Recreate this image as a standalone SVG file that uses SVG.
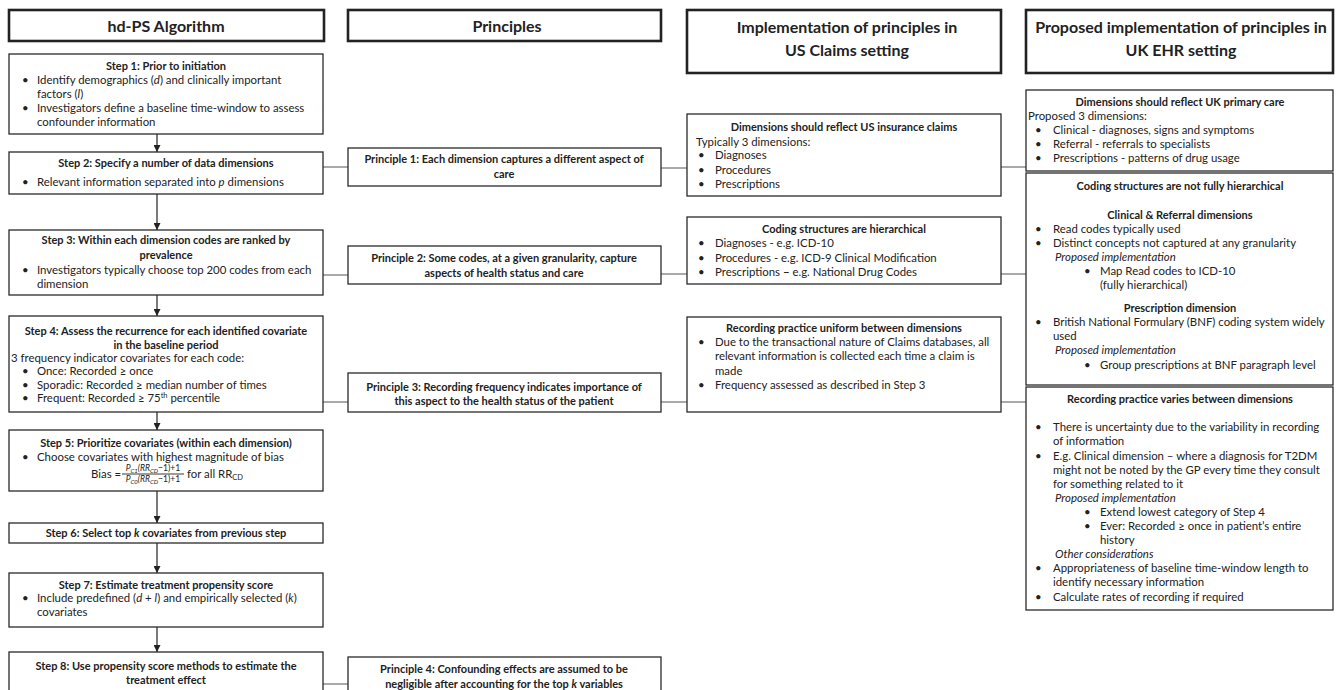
<svg xmlns="http://www.w3.org/2000/svg" width="1341" height="690" viewBox="0 0 1341 690">
<defs>
<style>
.box{fill:#fff;stroke:#2a2a2a;stroke-width:1.3}
.hdr{fill:#fff;stroke:#222;stroke-width:2.6}
text{font-family:Lato,"Open Sans",sans-serif;font-size:11.4px;fill:#222}
.b{font-weight:bold;font-size:11px}
.c{text-anchor:middle}
.i{font-style:italic}
.h{font-size:16px;font-weight:bold}
.conn{stroke:#555;stroke-width:1;fill:none}
.arr{stroke:#222;stroke-width:1.2;fill:none}
.f{font-size:8.6px;font-style:italic}
</style>
<marker id="ah" viewBox="0 0 10 10" refX="10" refY="5" markerWidth="7" markerHeight="7" markerUnits="userSpaceOnUse" orient="auto">
<path d="M0,0 L10,5 L0,10 z" fill="#222"/>
</marker>
</defs>
<rect width="1341" height="690" fill="#fff"/>

<g id="connectors">
<line class="arr" x1="157" y1="134" x2="157" y2="152" marker-end="url(#ah)"/>
<line class="arr" x1="157" y1="194" x2="157" y2="230" marker-end="url(#ah)"/>
<line class="arr" x1="157" y1="295" x2="157" y2="316" marker-end="url(#ah)"/>
<line class="arr" x1="157" y1="412" x2="157" y2="430" marker-end="url(#ah)"/>
<line class="arr" x1="157" y1="491" x2="157" y2="523" marker-end="url(#ah)"/>
<line class="arr" x1="157" y1="543" x2="157" y2="573" marker-end="url(#ah)"/>
<line class="arr" x1="157" y1="627" x2="157" y2="652" marker-end="url(#ah)"/>
<line class="conn" x1="323" y1="167" x2="348" y2="167"/>
<line class="conn" x1="323" y1="275" x2="348" y2="275"/>
<line class="conn" x1="323" y1="402" x2="348" y2="402"/>
<line class="conn" x1="323" y1="684" x2="348" y2="684"/>
<line class="conn" x1="661" y1="168" x2="687" y2="168"/>
<line class="conn" x1="661" y1="274" x2="687" y2="274"/>
<line class="conn" x1="661" y1="402" x2="687" y2="402"/>
<line class="conn" x1="1001" y1="167" x2="1026" y2="167"/>
<line class="conn" x1="1001" y1="274" x2="1026" y2="274"/>
<line class="conn" x1="1001" y1="402" x2="1026" y2="402"/>
</g>

<g id="hdr-hdps">
<rect class="hdr" x="9" y="10" width="315" height="31"/>
<text class="h c" x="166" y="32">hd-PS Algorithm</text>
</g>
<g id="hdr-principles">
<rect class="hdr" x="348" y="10" width="313" height="31"/>
<text class="h c" x="507" y="32">Principles</text>
</g>
<g id="hdr-us">
<rect class="hdr" x="687" y="10" width="314" height="63"/>
<text class="h c" x="847" y="33">Implementation of principles in</text>
<text class="h c" x="847" y="56">US Claims setting</text>
</g>
<g id="hdr-uk">
<rect class="hdr" x="1026" y="10" width="307" height="63"/>
<text class="h c" x="1181" y="33">Proposed implementation of principles in</text>
<text class="h c" x="1181" y="56">UK EHR setting</text>
</g>

<g id="step1">
<rect class="box" x="9" y="54" width="314" height="80"/>
<text class="b c" x="166" y="70">Step 1: Prior to initiation</text>
<text x="22" y="84">•</text><text x="37" y="84">Identify demographics (<tspan class="i">d</tspan>) and clinically important</text>
<text x="37" y="98">factors (<tspan class="i">l</tspan>)</text>
<text x="22" y="112">•</text><text x="37" y="112">Investigators define a baseline time-window to assess</text>
<text x="37" y="126">confounder information</text>
</g>
<g id="step2">
<rect class="box" x="9" y="152" width="314" height="42"/>
<text class="b c" x="166" y="167">Step 2: Specify a number of data dimensions</text>
<text x="22" y="186">•</text><text x="37" y="186">Relevant information separated into <tspan class="i">p</tspan> dimensions</text>
</g>
<g id="step3">
<rect class="box" x="9" y="230" width="314" height="65"/>
<text class="b c" x="166" y="244">Step 3: Within each dimension codes are ranked by</text>
<text class="b c" x="166" y="259">prevalence</text>
<text x="22" y="274">•</text><text x="37" y="274">Investigators typically choose top 200 codes from each</text>
<text x="37" y="288">dimension</text>
</g>
<g id="step4">
<rect class="box" x="9" y="316" width="314" height="96"/>
<text class="b c" x="166" y="335">Step 4: Assess the recurrence for each identified covariate</text>
<text class="b c" x="166" y="349">in the baseline period</text>
<text x="11" y="362">3 frequency indicator covariates for each code:</text>
<text x="22" y="375">•</text><text x="37" y="375">Once: Recorded  ≥ once</text>
<text x="22" y="389">•</text><text x="37" y="389">Sporadic: Recorded ≥ median number of times</text>
<text x="22" y="402">•</text><text x="37" y="402">Frequent: Recorded ≥ 75<tspan dy="-4" font-size="7.5">th</tspan><tspan dy="4"> percentile</tspan></text>
</g>
<g id="step5">
<rect class="box" x="9" y="430" width="314" height="61"/>
<text class="b c" x="166" y="447">Step 5: Prioritize covariates (within each dimension)</text>
<text x="22" y="461">•</text><text x="37" y="461">Choose covariates with highest magnitude of bias</text>
<text x="91" y="478">Bias =</text>
<text class="f c" x="153" y="471">P<tspan font-size="6" dy="1.5">C1</tspan><tspan dy="-1.5">(RR</tspan><tspan font-size="6" dy="1.5">CD</tspan><tspan dy="-1.5" font-style="normal">−1)+1</tspan></text>
<line x1="122" y1="474" x2="184" y2="474" stroke="#222" stroke-width="0.9"/>
<text class="f c" x="153" y="482">P<tspan font-size="6" dy="1.5">C0</tspan><tspan dy="-1.5">(RR</tspan><tspan font-size="6" dy="1.5">CD</tspan><tspan dy="-1.5" font-style="normal">−1)+1</tspan></text>
<text x="187" y="478">for all RR<tspan font-size="7.5" dy="2">CD</tspan></text>
</g>
<g id="step6">
<rect class="box" x="9" y="523" width="314" height="20"/>
<text class="b c" x="166" y="537">Step 6: Select top <tspan class="i">k</tspan> covariates from previous step</text>
</g>
<g id="step7">
<rect class="box" x="9" y="573" width="314" height="54"/>
<text class="b c" x="166" y="589">Step 7: Estimate treatment propensity score</text>
<text x="22" y="602">•</text><text x="37" y="602">Include predefined (<tspan class="i">d</tspan> + <tspan class="i">l</tspan>) and empirically selected (<tspan class="i">k</tspan>)</text>
<text x="37" y="616">covariates</text>
</g>
<g id="step8">
<rect class="box" x="9" y="652" width="314" height="50"/>
<text class="b c" x="166" y="670">Step 8: Use propensity score methods to estimate the</text>
<text class="b c" x="166" y="684">treatment effect</text>
</g>

<g id="principle1">
<rect class="box" x="348" y="148" width="313" height="38"/>
<text class="b c" x="504" y="163">Principle 1: Each dimension captures a different  aspect of</text>
<text class="b c" x="504" y="178">care</text>
</g>
<g id="principle2">
<rect class="box" x="348" y="246" width="313" height="38"/>
<text class="b c" x="504" y="262">Principle 2: Some codes, at a given granularity, capture</text>
<text class="b c" x="504" y="277">aspects of health status and care</text>
</g>
<g id="principle3">
<rect class="box" x="348" y="373" width="313" height="39"/>
<text class="b c" x="504" y="391">Principle 3: Recording frequency indicates importance of</text>
<text class="b c" x="504" y="405">this aspect to the health status of the patient</text>
</g>
<g id="principle4">
<rect class="box" x="348" y="657" width="313" height="50"/>
<text class="b c" x="504" y="673">Principle 4: Confounding effects are assumed to be</text>
<text class="b c" x="504" y="688">negligible after accounting for the top <tspan class="i">k</tspan> variables</text>
</g>

<g id="us1">
<rect class="box" x="687" y="114" width="314" height="82"/>
<text class="b c" x="844" y="131">Dimensions should reflect US insurance claims</text>
<text x="696" y="146">Typically 3 dimensions:</text>
<text x="698" y="159">•</text><text x="715" y="159">Diagnoses</text>
<text x="698" y="174">•</text><text x="715" y="174">Procedures</text>
<text x="698" y="188">•</text><text x="715" y="188">Prescriptions</text>
</g>
<g id="us2">
<rect class="box" x="687" y="217" width="314" height="67"/>
<text class="b c" x="844" y="233">Coding structures are hierarchical</text>
<text x="698" y="247">•</text><text x="715" y="247">Diagnoses - e.g. ICD-10</text>
<text x="698" y="262">•</text><text x="715" y="262">Procedures - e.g. ICD-9 Clinical Modification</text>
<text x="698" y="276">•</text><text x="715" y="276">Prescriptions <tspan font-weight="bold">–</tspan> e.g. National Drug Codes</text>
</g>
<g id="us3">
<rect class="box" x="687" y="317" width="314" height="95"/>
<text class="b c" x="844" y="332">Recording practice uniform between dimensions</text>
<text x="698" y="346">•</text><text x="715" y="346">Due to the transactional nature of Claims databases, all</text>
<text x="715" y="360">relevant information is collected each time a claim is</text>
<text x="715" y="375">made</text>
<text x="698" y="389">•</text><text x="715" y="389">Frequency assessed as described in Step 3</text>
</g>

<g id="uk1">
<rect class="box" x="1026" y="90" width="307" height="81"/>
<text class="b c" x="1180" y="106">Dimensions should reflect UK primary care</text>
<text x="1028" y="120">Proposed 3 dimensions:</text>
<text x="1035" y="134">•</text><text x="1053" y="134">Clinical - diagnoses, signs and symptoms</text>
<text x="1035" y="148">•</text><text x="1053" y="148">Referral - referrals to specialists</text>
<text x="1035" y="162">•</text><text x="1053" y="162">Prescriptions - patterns of drug usage</text>
</g>
<g id="uk2">
<rect class="box" x="1026" y="173" width="307" height="212"/>
<text class="b c" x="1180" y="190">Coding structures are not fully hierarchical</text>
<text class="b c" x="1180" y="219">Clinical &amp; Referral dimensions</text>
<text x="1035" y="233">•</text><text x="1053" y="233">Read codes typically used</text>
<text x="1035" y="247">•</text><text x="1053" y="247">Distinct concepts not captured at any granularity</text>
<text class="i" x="1055" y="261">Proposed implementation</text>
<text x="1084" y="275">•</text><text x="1100" y="275">Map Read codes to ICD-10</text>
<text x="1100" y="289">(fully hierarchical)</text>
<text class="b c" x="1180" y="312">Prescription dimension</text>
<text x="1035" y="326">•</text><text x="1053" y="326">British National Formulary (BNF) coding system widely</text>
<text x="1053" y="340">used</text>
<text class="i" x="1055" y="354">Proposed implementation</text>
<text x="1084" y="369">•</text><text x="1100" y="369">Group prescriptions at BNF paragraph level</text>
</g>
<g id="uk3">
<rect class="box" x="1026" y="387" width="307" height="223"/>
<text class="b c" x="1180" y="403">Recording practice varies between dimensions</text>
<text x="1035" y="431">•</text><text x="1053" y="431">There is uncertainty due to the variability in recording</text>
<text x="1053" y="445">of information</text>
<text x="1035" y="460">•</text><text x="1053" y="460">E.g. Clinical dimension – where a diagnosis for T2DM</text>
<text x="1053" y="474">might not be noted by the GP every time they consult</text>
<text x="1053" y="488">for something related to it</text>
<text class="i" x="1055" y="502">Proposed implementation</text>
<text x="1084" y="516">•</text><text x="1100" y="516">Extend lowest category of Step 4</text>
<text x="1084" y="530">•</text><text x="1100" y="530">Ever:  Recorded ≥ once in patient’s entire</text>
<text x="1100" y="544">history</text>
<text class="i" x="1055" y="558">Other considerations</text>
<text x="1035" y="572">•</text><text x="1053" y="572">Appropriateness of baseline time-window length to</text>
<text x="1053" y="586">identify necessary information</text>
<text x="1035" y="601">•</text><text x="1053" y="601">Calculate rates of recording if required</text>
</g>
</svg>
